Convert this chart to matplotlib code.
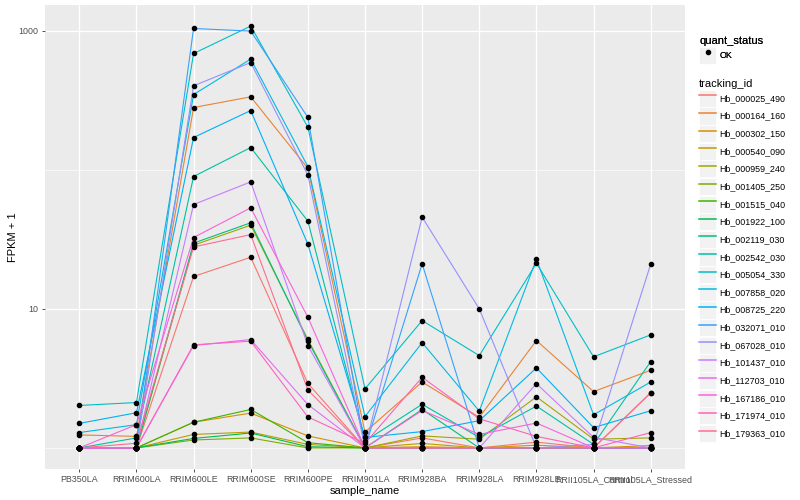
import numpy as np
import matplotlib
matplotlib.use('Agg')
import matplotlib.pyplot as plt
from matplotlib.lines import Line2D
from matplotlib.patches import Rectangle
from matplotlib.legend_handler import HandlerLine2D

plt.rcParams['font.family'] = ['Liberation Sans', 'DejaVu Sans']

# sample order on the x axis
samples = ['PB350LA', 'RRIM600LA', 'RRIM600LE', 'RRIM600SE', 'RRIM600PE',
           'RRIM901LA', 'RRIM928BA', 'RRIM928LA', 'RRIM928LE',
           'RRII105LA_Control', 'RRII105LA_Stressed']

tracking_ids = ['Hb_000025_490', 'Hb_000164_160', 'Hb_000302_150', 'Hb_000540_090',
                'Hb_000959_240', 'Hb_001405_250', 'Hb_001515_040', 'Hb_001922_100',
                'Hb_002119_030', 'Hb_002542_030', 'Hb_005054_330', 'Hb_007858_020',
                'Hb_008725_220', 'Hb_032071_010', 'Hb_067028_010', 'Hb_101437_010',
                'Hb_112703_010', 'Hb_167186_010', 'Hb_171974_010', 'Hb_179363_010']

# ggplot hue palette for 20 levels
colors = ['#F8766D', '#EA8331', '#D89000', '#C09B00', '#A3A500', '#7CAE00',
          '#39B600', '#00BB4E', '#00BF7D', '#00C1A3', '#00BFC4', '#00BAE0',
          '#00B0F6', '#35A2FF', '#9590FF', '#C77CFF', '#E76BF3', '#FA62DB',
          '#FF62BC', '#FF6C91']

# FPKM per sample, one list per gene
hb_000025_490 = [0, 0, 16.1, 22.5, 1.91, 0, 0.18, 0, 0.10, 0, 1.48]
hb_000164_160 = [0.24, 0.21, 279.7, 334, 101.5, 0.30, 1.98, 0.66, 4.92, 1.54, 2.62]
hb_000302_150 = [0, 0, 0.53, 0.78, 0.22, 0, 0.02, 0, 0.046, 0, 0.04]
hb_000540_090 = [0, 0, 0.25, 0.30, 0.06, 0, 0.077, 0, 0, 0, 0]
hb_000959_240 = [0, 0, 27.7, 39.0, 5.03, 0, 0.22, 0.155, 1.33, 0.155, 0.18]
hb_001405_250 = [0, 0, 0.14, 0.18, 0, 0, 0, 0, 0, 0, 0]
hb_001515_040 = [0, 0, 0.53, 0.89, 0.09, 0, 0, 0, 0, 0, 0]
hb_001922_100 = [0, 0, 0.17, 0.28, 0.02, 0, 0, 0, 0, 0, 0]
hb_002119_030 = [0, 0, 28.7, 40.6, 4.89, 0, 0.89, 0, 0, 0, 0]
hb_002542_030 = [0, 0.18, 88.5, 143.7, 41.8, 0.12, 1.06, 0.19, 1.0, 0.06, 3.18]
hb_005054_330 = [1.02, 1.12, 685.6, 1080, 201.9, 1.66, 7.24, 3.61, 20.3, 3.52, 5.50]
hb_007858_020 = [0.29, 0.47, 347, 624.8, 104.6, 0.68, 4.72, 0.84, 21.8, 0.73, 1.98]
hb_008725_220 = [0.50, 0.79, 169.8, 266, 28.2, 0.19, 0.31, 0.57, 2.76, 0.40, 0.85]
hb_032071_010 = [0, 0, 1038, 994, 237.6, 0, 20.1, 0, 0, 0, 0]
hb_067028_010 = [0, 0, 401, 590.5, 90.8, 0, 44.7, 9.0, 0, 0.06, 20.0]
hb_101437_010 = [0, 0, 55.3, 80.9, 4.45, 0, 0, 0, 1.90, 0.19, 0]
hb_112703_010 = [0, 0, 4.45, 5.02, 1.05, 0, 0, 0, 0, 0, 0]
hb_167186_010 = [0, 0.47, 31.6, 52.3, 7.71, 0, 0.86, 0.25, 0.51, 0, 0]
hb_171974_010 = [0, 0, 4.51, 4.86, 0.67, 0.08, 2.22, 0.62, 0.21, 0, 0.29]
hb_179363_010 = [0, 0.08, 26.9, 33.2, 1.61, 0, 0, 0, 0, 0, 1.50]

series = [hb_000025_490, hb_000164_160, hb_000302_150, hb_000540_090, hb_000959_240,
          hb_001405_250, hb_001515_040, hb_001922_100, hb_002119_030, hb_002542_030,
          hb_005054_330, hb_007858_020, hb_008725_220, hb_032071_010, hb_067028_010,
          hb_101437_010, hb_112703_010, hb_167186_010, hb_171974_010, hb_179363_010]

fig = plt.figure(figsize=(8, 5), dpi=100)
ax = fig.add_axes([45 / 800, 1 - 469 / 500, 640 / 800, 464 / 500])
ax.set_facecolor('#EBEBEB')

x = np.arange(len(samples))
line_handles = []
for vals, col in zip(series, colors):
    y = np.array(vals) + 1
    h, = ax.plot(x, y, color=col, lw=0.8, zorder=3)
    line_handles.append(h)
for vals in series:
    ax.plot(x, np.array(vals) + 1, 'o', color='black', ms=3, zorder=4)

ax.set_yscale('log')
allv = np.log10(np.concatenate(series) + 1)
lo, hi = allv.min(), allv.max()
pad = (hi - lo) * 0.05
ax.set_ylim(10 ** (lo - pad), 10 ** (hi + pad))
ax.set_xlim(-0.6, len(samples) - 0.4)

ax.set_yticks([10, 1000])
ax.set_yticklabels(['10', '1000'])
ax.set_yticks([1, 100], minor=True)
ax.yaxis.set_minor_formatter(plt.NullFormatter())
ax.set_xticks(x)
ax.set_xticklabels(samples)

ax.grid(True, which='major', color='white', lw=0.9, zorder=0)
ax.grid(True, which='minor', axis='y', color='white', lw=0.45, zorder=0)
ax.set_axisbelow(True)
for s in ax.spines.values():
    s.set_visible(False)
ax.tick_params(which='major', length=2.5, width=0.6, color='#333333',
               labelsize=6.4, labelcolor='#4D4D4D', pad=2)
ax.tick_params(which='minor', length=0)

ax.set_xlabel('sample_name', fontsize=8, labelpad=1.5)
ax.set_ylabel('FPKM + 1', fontsize=8, labelpad=0.5)


class KeyHandler(HandlerLine2D):
    # grey key box behind each legend entry, like ggplot
    def create_artists(self, legend, orig_handle, xdescent, ydescent,
                       width, height, fontsize, trans):
        arts = super().create_artists(legend, orig_handle, xdescent, ydescent,
                                      width, height, fontsize, trans)
        for a in arts:
            if a.get_linestyle() not in ('None', ''):
                a.set_linewidth(1.1)
        bg = Rectangle((-xdescent, -ydescent), width, height, facecolor='#F2F2F2',
                       edgecolor='white', lw=0.6, transform=trans)
        return [bg] + arts


legend_kw = dict(loc='upper left', frameon=False, fontsize=6.4, title_fontsize=8,
                 handlelength=1.9, handleheight=2.6, handletextpad=0.35,
                 labelspacing=0.05, borderpad=0.2, alignment='left',
                 handler_map={Line2D: KeyHandler()})

ok_handle = Line2D([], [], marker='o', color='black', ls='', ms=3)
leg1 = fig.legend([ok_handle], ['OK'], title='quant_status',
                  bbox_to_anchor=(693 / 800, 1 - 30 / 500), **legend_kw)
fig.add_artist(leg1)
leg2 = fig.legend(line_handles, tracking_ids, title='tracking_id',
                  bbox_to_anchor=(693 / 800, 1 - 73 / 500), **legend_kw)

fig.savefig('out.png', dpi=100)
